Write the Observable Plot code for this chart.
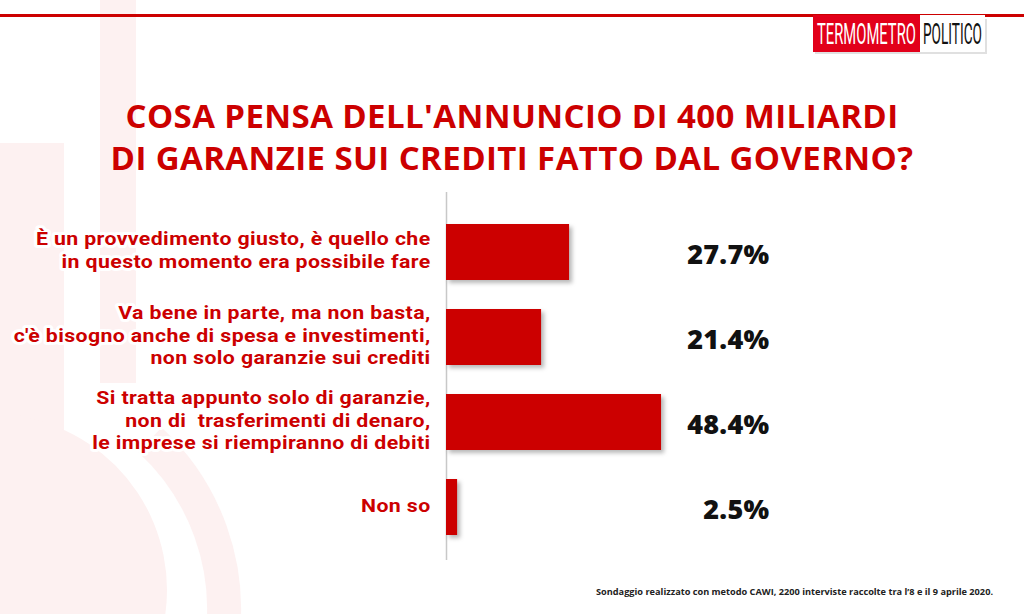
<!DOCTYPE html>
<html><head><meta charset="utf-8">
<script src="https://cdn.jsdelivr.net/npm/d3@7"></script>
<script src="https://cdn.jsdelivr.net/npm/@observablehq/plot@0.6"></script>
<style>
html,body{margin:0;padding:0;background:#fff;}
#page{position:relative;width:1024px;height:614px;overflow:hidden;font-family:"Open Sans",sans-serif;}
#bg{position:absolute;left:0;top:0;}
#title{position:absolute;left:0;top:95px;width:1024px;text-align:center;color:#cc0000;font-weight:700;font-size:33px;line-height:42px;letter-spacing:0.4px;}
#chart{position:absolute;left:0;top:180px;}
#caption{position:absolute;right:31px;top:585px;font-size:9.2px;font-weight:700;color:#222;white-space:nowrap;}
</style></head><body>
<div id="page">
<svg id="bg" width="1024" height="614">
  <g fill="#fdf1f1">
    <rect x="100" y="0" width="36" height="383"/>
    <rect x="0" y="143" width="64" height="320"/>
    <circle cx="-9" cy="590" r="176"/>
  </g>
  <path d="M150,440 A230,230 0 0 1 222,640" fill="none" stroke="#fdf1f1" stroke-width="34"/>
  <rect x="0" y="14" width="1024" height="3" fill="#cc0000"/>
  <rect x="815" y="19" width="172" height="35" fill="#000" opacity="0.12"/>
  <rect x="813" y="15" width="107" height="37" fill="#e2001a"/>
  <rect x="920" y="15" width="65" height="37" fill="#fff"/>
  <text id="lg1" fill="#fff" font-family="Roboto" font-size="29">TERMOMETRO</text>
  <text id="lg2" fill="#111" font-family="Roboto" font-size="29">POLITICO</text>
</svg>
<div id="title">COSA PENSA DELL'ANNUNCIO DI 400 MILIARDI<br>DI GARANZIE SUI CREDITI FATTO DAL GOVERNO?</div>
<div id="chart"></div>
<div id="caption">Sondaggio realizzato con metodo CAWI, 2200 interviste raccolte tra l’8 e il 9 aprile 2020.</div>
</div>
<script>
const categories = [
  "È un provvedimento giusto, è quello che\nin questo momento era possibile fare",
  "Va bene in parte, ma non basta,\nc'è bisogno anche di spesa e investimenti,\nnon solo garanzie sui crediti",
  "Si tratta appunto solo di garanzie,\nnon di  trasferimenti di denaro,\nle imprese si riempiranno di debiti",
  "Non so"
];
const values = [27.7, 21.4, 48.4, 2.5];
const data = categories.map((c, i) => ({cat: c, value: values[i]}));

// logo text fitted into its boxes
function fitText(id, x, y, w) {
  const t = document.getElementById(id);
  const len = t.getComputedTextLength();
  t.setAttribute("transform", `translate(${x},${y}) scale(${w / len},1)`);
}
fitText("lg1", 817, 44, 99);
fitText("lg2", 923, 44, 59);

const plot = Plot.plot({
  width: 1024, height: 390,
  marginLeft: 446, marginRight: 255, marginTop: 12, marginBottom: 10,
  style: {background: "transparent", overflow: "visible", fontFamily: "Open Sans"},
  x: {domain: [0, 72.7], axis: null},
  y: {domain: categories, axis: null, paddingInner: 0.347, paddingOuter: 0.32, align: 0.55},
  marks: [
    Plot.ruleX([0], {stroke: "#c8c8c8", strokeWidth: 1.5}),
    Plot.barX(data, {x: "value", y: "cat", fill: "#cc0000"}),
    Plot.text(data, {y: "cat", text: "cat", frameAnchor: "left", textAnchor: "end", dx: -16, dy: -3,
      fill: "#cc0000", stroke: "white", strokeWidth: 6, paintOrder: "stroke", fontSize: 19, fontWeight: 700, lineHeight: 1.19}),
    Plot.text(data, {y: "cat", text: d => d.value.toFixed(1) + "%", frameAnchor: "right", textAnchor: "end", dy: 3,
      fontSize: 27, fontWeight: 800, fill: "#111"})
  ]
});
document.getElementById("chart").appendChild(plot);
plot.querySelectorAll('g[aria-label="bar"] rect').forEach(r => r.style.filter = "drop-shadow(3px 3px 2px rgba(0,0,0,0.28))");
const textGroups = plot.querySelectorAll('g[aria-label="text"]');
const labG = textGroups[0];
labG.style.letterSpacing = "0.35px";
labG.style.fontFamily = "Roboto";
// widen the category labels around their right edge (wide geometric face look)
const wrap = document.createElementNS("http://www.w3.org/2000/svg", "g");
labG.parentNode.insertBefore(wrap, labG);
wrap.appendChild(labG);
wrap.setAttribute("transform", "translate(430,0) scale(1.12,1) translate(-430,0)");
textGroups[1].style.letterSpacing = "0.3px";
</script>
</body></html>
